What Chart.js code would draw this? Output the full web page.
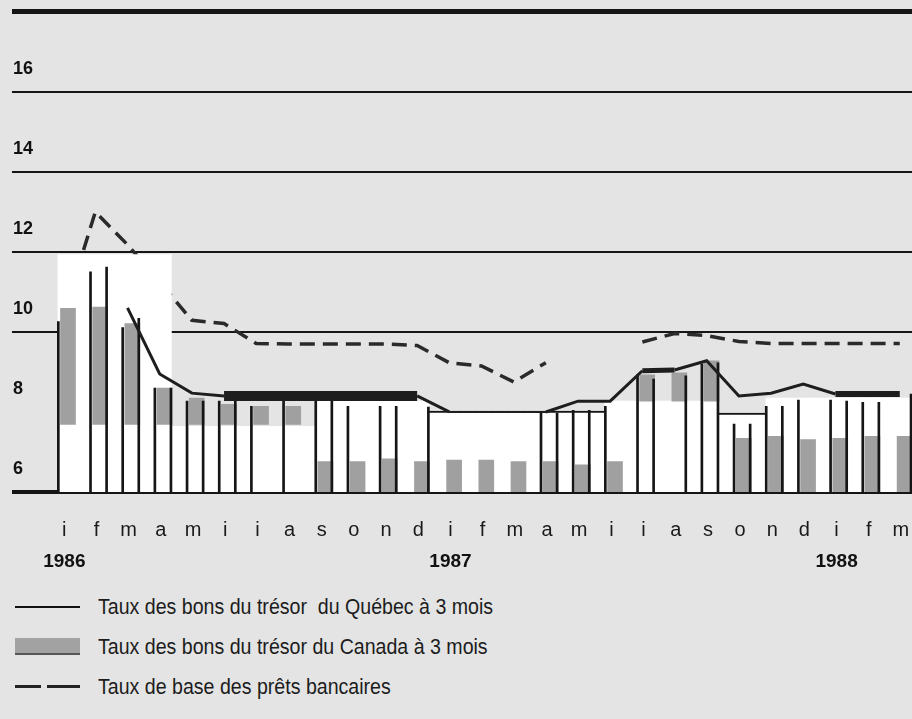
<!DOCTYPE html>
<html lang="fr">
<head>
<meta charset="utf-8">
<title>Taux d'intérêt 1986-1988</title>
<script src="https://cdn.jsdelivr.net/npm/chart.js@4.4.1/dist/chart.umd.min.js"></script>
<style>
  body { margin: 0; background: #e4e4e4; font-family: 'Liberation Sans', Arial, sans-serif; }
  #wrap { position: relative; width: 912px; height: 576px; }
  .legende { position: absolute; left: 0; top: 590px; width: 912px; }
  .item { position: absolute; left: 0; height: 30px; width: 600px; }
  .item span { position: absolute; left: 98px; top: 0; font-size: 22px; line-height: 30px; color: #1c1c1c;
               white-space: pre; transform: scaleX(0.89); transform-origin: 0 50%; }
  .sym { position: absolute; left: 15px; width: 65px; }
  .trait { top: 14px; border-top: 2px solid #111; }
  .boite { top: 6px; height: 15px; background: #a2a2a2; border-bottom: 2px solid #555; }
  .tirets { top: 13px; height: 3px; background: linear-gradient(90deg, #222 0 26px, transparent 26px 32px, #222 32px 65px); }
</style>
</head>
<body>
<div id="wrap"><canvas id="graphique"></canvas></div>
<div class="legende">
  <div class="item" style="top:2px"><div class="sym trait"></div><span>Taux des bons du trésor  du Québec à 3 mois</span></div>
  <div class="item" style="top:42px"><div class="sym boite"></div><span>Taux des bons du trésor du Canada à 3 mois</span></div>
  <div class="item" style="top:82px"><div class="sym tirets"></div><span>Taux de base des prêts bancaires</span></div>
</div>
<script>
// Mois de janvier 1986 à mars 1988
const mois = ['j','f','m','a','m','j','j','a','s','o','n','d',
              'j','f','m','a','m','j','j','a','s','o','n','d',
              'j','f','m'];
const annees = ['1986', '1987', '1988'];

// Taux de base des prêts bancaires (tirets)
const tauxBase = [10.4, 13.0, 12.18, 11.25, 10.29, 10.21, 9.71, 9.7, 9.7, 9.7, 9.7, 9.66,
                  9.23, 9.15, 8.75, 9.23, null, null, 9.75, 9.96, 9.91, 9.76, 9.71, 9.71,
                  9.71, 9.71, 9.71];

// Bons du trésor du Québec (trait plein)
const tauxQuebec = [null, null, 10.6, 8.95, 8.47, 8.4, 8.4, 8.4, 8.4, 8.4, 8.4, 8.4,
                    8.0, 8.0, 8.0, 8.0, 8.27, 8.27, 9.03, 9.05, 9.28, 8.4, 8.47, 8.7,
                    8.45, 8.45, 8.45];

// Bons du trésor du Canada (barres grises) : haut et bas visibles
const canadaHaut = [10.59, 10.62, 10.21, 8.6, 8.35, 8.19, 8.14, 8.14, 6.76, 6.76, 6.83, 6.76,
                    6.8, 6.8, 6.76, 6.76, 6.68, 6.76, 8.93, 8.98, 9.28, 7.34, 7.39, 7.31,
                    7.34, 7.39, 7.39];
const canadaBas = [7.69, 7.69, 7.69, 7.69, 7.69, 7.69, 7.69, 7.69, 6, 6, 6, 6,
                   6, 6, 6, 6, 6, 6, 8.27, 8.27, 8.27, 6, 6, 6,
                   6, 6, 6];

// Traits verticaux par quinzaine
const traitsQuinzaine = [10.26, null, 11.5, 11.62, 10.11, 10.34, 8.6, 8.6, 8.27, 8.27,
                         8.27, 8.27, 8.14, null, 8.27, null, 8.27, 8.27, 8.14, null,
                         8.14, 8.14, null, 8.12, null, null, null, null, null, null,
                         7.97, 7.97, 8.04, 8.04, 8.14, null, 8.93, 8.82, null, 8.9,
                         9.2, 9.23, 7.7, 7.7, 8.14, 8.14, 8.3, null, 8.3, 8.27,
                         8.24, 8.24, null, 8.45];

// Zones blanches par quinzaine
const zoneBlanche = [11.93, 11.93, 11.93, 11.93, 11.93, 11.93, 11.93, 7.64, 7.64, 7.64,
                     7.64, 7.64, 7.64, 7.64, 7.64, 7.64, 8.27, 8.27, 8.27, 8.27,
                     8.27, 8.27, 8.27, 8.02, 8.02, 8.02, 8.02, 8.02, 8.02, 8.02,
                     8.02, 8.02, 8.02, 8.02, 8.27, 8.27, 8.27, 8.27, 8.27, 8.27,
                     8.27, 7.97, 7.97, 7.97, 8.35, 8.35, 8.35, 8.35, 8.35, 8.35,
                     8.35, 8.35, 8.35, 8.35];

const police = "'Liberation Sans', Arial, sans-serif";
const NOIR = '#151515';
const X_MIN = -1.44, X_MAX = 26.53;

const parMois = (arr, dx) => arr.map((v, i) => ({ x: i + dx, y: v }));
const parQuinzaine = (arr, dx) => arr.map((v, k) => ({ x: k / 2 + dx, y: v }));

// pas de marge à droite pour les étiquettes : la zone du graphique va jusqu'au bord
const sansMarge = h => s => { s.height = h; s.paddingLeft = 0; s.paddingRight = 0; };

new Chart(document.getElementById('graphique'), {
    type: 'bar',
    data: {
        datasets: [
            {
                type: 'line',
                label: 'Taux des bons du trésor du Québec à 3 mois',
                data: parMois(tauxQuebec, 0.15),
                borderColor: '#1e1e1e',
                borderWidth: 3,
                borderCapStyle: 'butt',
                pointRadius: 0,
                spanGaps: false,
                order: 1,
                segment: {
                    borderWidth: ctx => {
                        const i = ctx.p0DataIndex;
                        if (i >= 5 && i <= 10) return 10;
                        if (i >= 12 && i <= 14) return 2;
                        if (i === 18) return 5;
                        if (i >= 24) return 6;
                        return 3;
                    }
                }
            },
            {
                label: 'traits',
                data: parQuinzaine(traitsQuinzaine, 0),
                backgroundColor: NOIR,
                barThickness: 2,
                grouped: false,
                order: 2
            },
            {
                label: 'Taux des bons du trésor du Canada à 3 mois',
                data: canadaHaut.map((v, i) => ({ x: i + 0.3, y: [canadaBas[i], v] })),
                backgroundColor: '#a0a0a0',
                barThickness: 15,
                grouped: false,
                order: 3
            },
            {
                label: 'zone',
                data: parQuinzaine(zoneBlanche, 0.25),
                backgroundColor: '#ffffff',
                borderColor: NOIR,
                borderWidth: ctx => {
                    const k = ctx.dataIndex;
                    return ((k >= 23 && k <= 33) || (k >= 41 && k <= 43)) ? { top: 2 } : 0;
                },
                borderSkipped: false,
                barThickness: 17,
                grouped: false,
                order: 4
            },
            {
                type: 'line',
                label: 'Taux de base des prêts bancaires',
                data: parMois(tauxBase, 0.15),
                borderColor: '#2a2a2a',
                borderWidth: 3.5,
                borderDash: [15, 8],
                pointRadius: 0,
                spanGaps: false,
                order: 5
            }
        ]
    },
    options: {
        responsive: true,
        maintainAspectRatio: false,
        animation: false,
        layout: { padding: { top: 11, left: 0, right: 0, bottom: 0 } },
        plugins: {
            legend: { display: false },
            tooltip: { enabled: false }
        },
        scales: {
            y: {
                min: 6,
                max: 18,
                afterFit: s => { s.width = 12; },
                border: { display: false },
                grid: {
                    drawTicks: false,
                    color: ctx => (ctx.tick.value === 8 ? 'transparent' : NOIR),
                    lineWidth: ctx => (ctx.tick.value === 18 ? 5 : ctx.tick.value === 6 ? 4 : 2)
                },
                ticks: {
                    stepSize: 2,
                    mirror: true,
                    padding: 1,
                    labelOffset: -23,
                    color: '#111',
                    font: { family: police, size: 18, weight: 'bold' },
                    callback: v => (v === 18 ? '' : String(v))
                }
            },
            x: {
                type: 'linear',
                min: X_MIN,
                max: X_MAX,
                offset: false,
                weight: 0,
                afterFit: sansMarge(44),
                afterBuildTicks: a => { a.ticks = mois.map((_, i) => ({ value: i })); },
                grid: { display: false },
                border: { display: false },
                ticks: {
                    autoSkip: false,
                    maxRotation: 0,
                    padding: 18,
                    labelOffset: 6,
                    color: '#1a1a1a',
                    font: { family: police, size: 20 },
                    callback: v => mois[v]
                }
            },
            annee: {
                type: 'linear',
                axis: 'x',
                position: 'bottom',
                min: X_MIN,
                max: X_MAX,
                offset: false,
                weight: 1,
                afterFit: sansMarge(40),
                afterBuildTicks: a => { a.ticks = [0, 12, 24].map(v => ({ value: v })); },
                grid: { display: false },
                border: { display: false },
                ticks: {
                    autoSkip: false,
                    maxRotation: 0,
                    padding: 6,
                    labelOffset: 6,
                    color: '#111',
                    font: { family: police, size: 19, weight: 'bold' },
                    callback: v => annees[v / 12]
                }
            }
        }
    }
});
</script>
</body>
</html>
